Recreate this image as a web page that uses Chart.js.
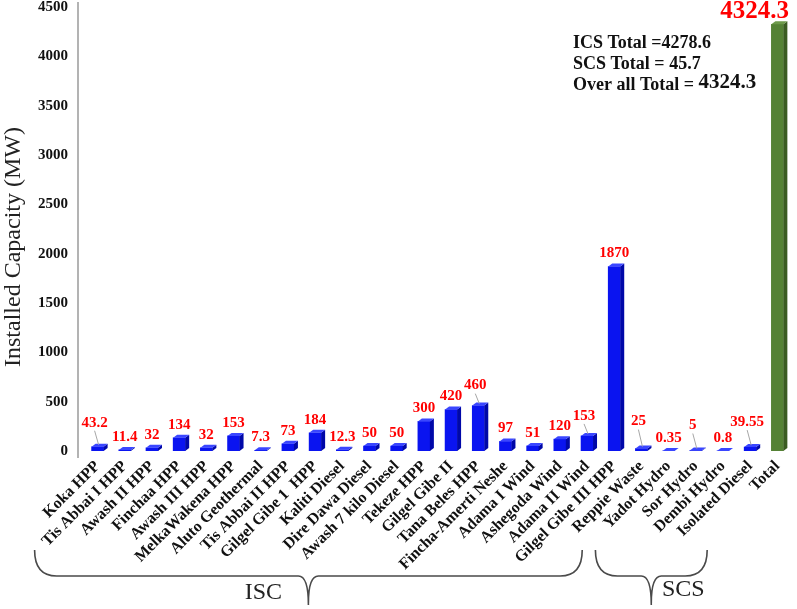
<!DOCTYPE html>
<html>
<head>
<meta charset="utf-8">
<script src="https://cdn.jsdelivr.net/npm/chart.js@4.4.1/dist/chart.umd.min.js"></script>
<style>
  html, body { margin: 0; padding: 0; background: #fff; }
  #wrap { width: 797px; height: 609px; }
</style>
</head>
<body>
<div id="wrap"><canvas id="chart"></canvas></div>
<script>
// plant names and installed capacity (MW)
const plantNames = [
  'Koka HPP', 'Tis Abbai I HPP', 'Awash II HPP', 'Finchaa HPP', 'Awash III HPP',
  'MelkaWakena HPP', 'Aluto Geothermal', 'Tis Abbai II HPP', 'Gilgel Gibe 1  HPP', 'Kaliti Diesel',
  'Dire Dawa Diesel', 'Awash 7 kilo Diesel', 'Tekeze HPP', 'Gilgel Gibe II', 'Tana Beles HPP',
  'Fincha-Amerti Neshe', 'Adama I Wind', 'Ashegoda Wind', 'Adama II Wind', 'Gilgel Gibe III HPP',
  'Reppie Waste', 'Yadot Hydro', 'Sor Hydro', 'Dembi Hydro', 'Isolated Diesel', 'Total'
];
const capacityMW = [
  43.2, 11.4, 32, 134, 32,
  153, 7.3, 73, 184, 12.3,
  50, 50, 300, 420, 460,
  97, 51, 120, 153, 1870,
  25, 0.35, 5, 0.8, 39.55, 4324.3
];
const totalsText = ['ICS Total =4278.6', 'SCS Total = 45.7', 'Over all Total = '];
const overallTotal = '4324.3';
const groupNames = ['ISC', 'SCS'];
const groupFirst = [0, 20];
const groupLast = [19, 24];
const yTitle = 'Installed Capacity (MW)';

const SERIF = '"Liberation Serif", "Times New Roman", serif';
const BLUE = '#0a14f0', BLUE_SIDE = '#0008a8', BLUE_TOP = '#3a46ff';
const GREEN = '#558235', GREEN_SIDE = '#3b5c22', GREEN_TOP = '#6d9a4a';
const lastIdx = plantNames.length - 1;

// labels that sit higher with a small grey leader line
const leaderLift = { 0: -11, 14: -7, 18: -7, 20: -14, 22: -12, 24: -12 };

const bars3d = {
  id: 'bars3d',
  afterDatasetsDraw(chart) {
    const { ctx } = chart;
    const meta = chart.getDatasetMeta(0);
    const dx = 4, dy = 3;
    ctx.save();
    meta.data.forEach((bar, i) => {
      const l = bar.x - bar.width / 2, r = bar.x + bar.width / 2;
      const top = bar.y, base = bar.base;
      const isTotal = i === lastIdx;
      ctx.fillStyle = isTotal ? GREEN_SIDE : BLUE_SIDE;
      ctx.beginPath();
      ctx.moveTo(r, top); ctx.lineTo(r + dx, top - dy); ctx.lineTo(r + dx, base - dy); ctx.lineTo(r, base);
      ctx.closePath(); ctx.fill();
      ctx.fillStyle = isTotal ? GREEN_TOP : BLUE_TOP;
      ctx.beginPath();
      ctx.moveTo(l, top); ctx.lineTo(l + dx, top - dy); ctx.lineTo(r + dx, top - dy); ctx.lineTo(r, top);
      ctx.closePath(); ctx.fill();
    });
    ctx.restore();
  }
};

const valueLabels = {
  id: 'valueLabels',
  afterDatasetsDraw(chart) {
    const { ctx } = chart;
    const meta = chart.getDatasetMeta(0);
    ctx.save();
    ctx.fillStyle = '#ff0000';
    ctx.textBaseline = 'middle';
    meta.data.forEach((bar, i) => {
      const txt = String(capacityMW[i]);
      if (i === lastIdx) {
        ctx.font = 'bold 25px ' + SERIF;
        ctx.textAlign = 'right';
        ctx.fillText(txt, 789, 12);
        return;
      }
      ctx.font = 'bold 15px ' + SERIF;
      ctx.textAlign = 'center';
      const lift = leaderLift[i] || 0;
      const cy = bar.y - 13 + lift;
      const cx = bar.x + (lift ? -3 : 0);
      ctx.fillText(txt, cx, cy);
      if (lift) {
        ctx.strokeStyle = '#a6a6a6';
        ctx.lineWidth = 1;
        ctx.beginPath();
        ctx.moveTo(cx, cy + 8);
        ctx.lineTo(bar.x + 1, bar.y - 2);
        ctx.stroke();
        ctx.fillStyle = '#ff0000';
      }
    });
    ctx.restore();
  }
};

const extras = {
  id: 'extras',
  afterDraw(chart) {
    const { ctx, chartArea, scales } = chart;
    const xs = scales.x;
    ctx.save();
    // y axis line, set a little left of the first category
    ctx.strokeStyle = '#9a9a9a';
    ctx.lineWidth = 1.5;
    ctx.beginPath();
    ctx.moveTo(chartArea.left - 6, chartArea.top - 5);
    ctx.lineTo(chartArea.left - 6, chartArea.bottom + 7);
    ctx.stroke();

    // y title, sits a bit below the middle of the axis
    ctx.save();
    ctx.translate(14, 247);
    ctx.rotate(-Math.PI / 2);
    ctx.fillStyle = '#222';
    ctx.font = '24px ' + SERIF;
    ctx.textAlign = 'center';
    ctx.textBaseline = 'middle';
    ctx.fillText(yTitle, 0, 0);
    ctx.restore();

    // totals box
    ctx.fillStyle = '#111';
    ctx.textAlign = 'left';
    ctx.textBaseline = 'middle';
    ctx.font = 'bold 18px ' + SERIF;
    ctx.fillText(totalsText[0], 573, 43);
    ctx.fillText(totalsText[1], 573, 64);
    ctx.fillText(totalsText[2], 573, 85);
    const w = ctx.measureText(totalsText[2]).width;
    ctx.font = 'bold 21px ' + SERIF;
    ctx.fillText(overallTotal, 573 + w, 83);

    // group braces under the category labels
    ctx.strokeStyle = '#4a4a4a';
    ctx.lineWidth = 1.6;
    const yTop = 550, yH = 576, yTip = 605;
    const brace = (x1, x2) => {
      const xm = (x1 + x2) / 2;
      ctx.beginPath();
      ctx.moveTo(x1, yTop);
      ctx.quadraticCurveTo(x1, yH, x1 + 22, yH);
      ctx.lineTo(xm - 10, yH);
      ctx.quadraticCurveTo(xm, yH, xm, yTip);
      ctx.moveTo(xm, yTip - 2);
      ctx.quadraticCurveTo(xm, yH, xm + 10, yH);
      ctx.lineTo(x2 - 22, yH);
      ctx.quadraticCurveTo(x2, yH, x2, yTop);
      ctx.stroke();
    };
    const ax = xs.getPixelForValue(groupFirst[0]) - 63;
    const bx = xs.getPixelForValue(groupLast[0]) - 32;
    const cx = xs.getPixelForValue(groupFirst[1]) - 46;
    const dx = xs.getPixelForValue(groupLast[1]) - 43;
    brace(ax, bx);
    brace(cx, dx);
    ctx.fillStyle = '#222';
    ctx.font = '24px ' + SERIF;
    ctx.textAlign = 'center';
    ctx.fillText(groupNames[0], (ax + bx) / 2 - 45, 593);
    ctx.fillText(groupNames[1], (cx + dx) / 2 + 32, 590);
    ctx.restore();
  }
};

new Chart(document.getElementById('chart'), {
  type: 'bar',
  data: {
    labels: plantNames,
    datasets: [{
      data: capacityMW,
      backgroundColor: capacityMW.map((_, i) => (i === lastIdx ? GREEN : BLUE)),
      barThickness: 12,
      borderWidth: 0
    }]
  },
  options: {
    responsive: true,
    maintainAspectRatio: false,
    animation: false,
    layout: { padding: { top: 7, right: 3, left: 0, bottom: 0 } },
    plugins: { legend: { display: false }, tooltip: { enabled: false } },
    scales: {
      x: {
        grid: { display: false, drawTicks: false },
        border: { display: false },
        ticks: {
          autoSkip: false, minRotation: 45, maxRotation: 45, padding: 6,
          color: '#111', font: { family: SERIF, size: 16, weight: 'bold' }
        },
        afterFit: (s) => { s.height = 158; }
      },
      y: {
        min: 0, max: 4500,
        grid: { display: false, drawTicks: false },
        border: { display: false },
        ticks: {
          stepSize: 500, padding: 16, color: '#111',
          font: { family: SERIF, size: 15, weight: 'bold' },
          callback: (v) => String(v)
        },
        afterFit: (s) => { s.width = 84; s.paddingTop = 0; s.paddingBottom = 0; }
      }
    }
  },
  plugins: [bars3d, valueLabels, extras]
});
</script>
</body>
</html>
